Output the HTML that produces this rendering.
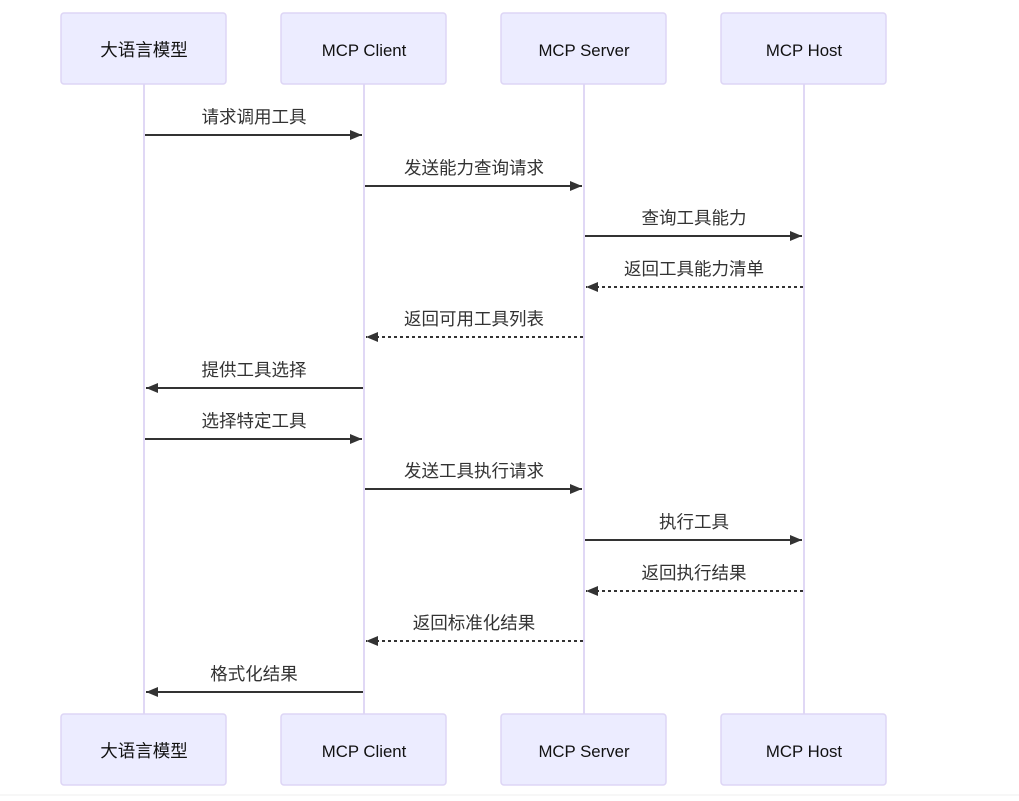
<!DOCTYPE html>
<html><head><meta charset="utf-8"><style>
html,body{margin:0;padding:0;background:#fff;}
svg text{font-family:"Liberation Sans","Noto Sans CJK SC",sans-serif;}
</style></head><body>
<svg width="1019" height="796" viewBox="0 0 1019 796" xmlns="http://www.w3.org/2000/svg">
<rect x="0" y="794" width="1019" height="2" fill="#f7f7f7"/>
<defs>
<marker id="ah" markerWidth="12" markerHeight="10" refX="12" refY="5" orient="auto" markerUnits="userSpaceOnUse">
<path d="M0,0 L12,5 L0,10 z" fill="#333"/></marker>
</defs>
<g stroke="#e0d8f5" stroke-width="2">
<line x1="144" y1="84" x2="144" y2="714"/>
<line x1="364" y1="84" x2="364" y2="714"/>
<line x1="584" y1="84" x2="584" y2="714"/>
<line x1="804" y1="84" x2="804" y2="714"/>
</g>
<g fill="#ececff" stroke="#ddd5f5" stroke-width="1.5">
<rect x="61" y="13" width="165" height="71" rx="3"/>
<rect x="281" y="13" width="165" height="71" rx="3"/>
<rect x="501" y="13" width="165" height="71" rx="3"/>
<rect x="721" y="13" width="165" height="71" rx="3"/>
<rect x="61" y="714" width="165" height="71" rx="3"/>
<rect x="281" y="714" width="165" height="71" rx="3"/>
<rect x="501" y="714" width="165" height="71" rx="3"/>
<rect x="721" y="714" width="165" height="71" rx="3"/>
</g>
<g font-size="17.5" fill="#111" text-anchor="middle">
<text x="144" y="56">大语言模型</text>
<text x="144" y="757">大语言模型</text>
</g>
<g font-size="16.8" fill="#111" text-anchor="middle">
<text x="364" y="56">MCP Client</text>
<text x="584" y="56">MCP Server</text>
<text x="804" y="56">MCP Host</text>
<text x="364" y="757">MCP Client</text>
<text x="584" y="757">MCP Server</text>
<text x="804" y="757">MCP Host</text>
</g>
<g stroke="#333" stroke-width="2" marker-end="url(#ah)">
<line x1="145" y1="135" x2="362" y2="135"/>
<line x1="365" y1="186" x2="582" y2="186"/>
<line x1="585" y1="236" x2="802" y2="236"/>
<line x1="803" y1="287" x2="586" y2="287" stroke-dasharray="3,3"/>
<line x1="583" y1="337" x2="366" y2="337" stroke-dasharray="3,3"/>
<line x1="363" y1="388" x2="146" y2="388"/>
<line x1="145" y1="439" x2="362" y2="439"/>
<line x1="365" y1="489" x2="582" y2="489"/>
<line x1="585" y1="540" x2="802" y2="540"/>
<line x1="803" y1="591" x2="586" y2="591" stroke-dasharray="3,3"/>
<line x1="583" y1="641" x2="366" y2="641" stroke-dasharray="3,3"/>
<line x1="363" y1="692" x2="146" y2="692"/>
</g>
<g font-size="17.5" fill="#333" text-anchor="middle">
<text x="254" y="123">请求调用工具</text>
<text x="474" y="174">发送能力查询请求</text>
<text x="694" y="224">查询工具能力</text>
<text x="694" y="275">返回工具能力清单</text>
<text x="474" y="325">返回可用工具列表</text>
<text x="254" y="376">提供工具选择</text>
<text x="254" y="427">选择特定工具</text>
<text x="474" y="477">发送工具执行请求</text>
<text x="694" y="528">执行工具</text>
<text x="694" y="579">返回执行结果</text>
<text x="474" y="629">返回标准化结果</text>
<text x="254" y="680">格式化结果</text>
</g>
</svg>
</body></html>
